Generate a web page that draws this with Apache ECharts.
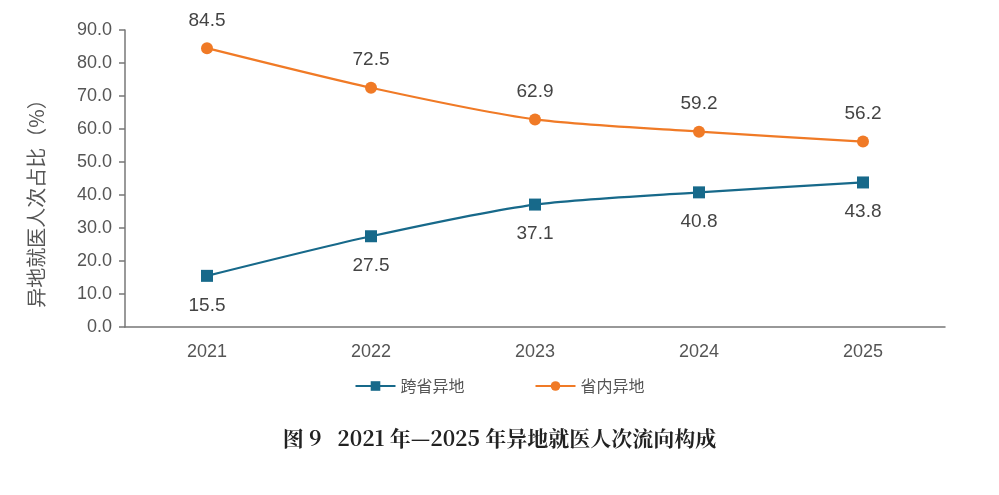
<!DOCTYPE html>
<html><head><meta charset="utf-8">
<script src="https://cdn.jsdelivr.net/npm/echarts@6/dist/echarts.min.js"></script>
<style>html,body{margin:0;padding:0;background:#fff}#c{width:999px;height:495px}</style>
</head><body><div id="c"></div>
<script>
const categories = ['2021','2022','2023','2024','2025'];
const crossProvince = [15.5, 27.5, 37.1, 40.8, 43.8];
const inProvince = [84.5, 72.5, 62.9, 59.2, 56.2];
const seriesNames = ['跨省异地','省内异地'];
const yAxisName = '异地就医人次占比（%）';
const titleText = '图 9   2021 年—2025 年异地就医人次流向构成';

const numFont = 'Arial, "Liberation Sans", sans-serif';
const chart = echarts.init(document.getElementById('c'));
chart.setOption({
  backgroundColor: '#fff',
  animation: false,
  title: {
    text: titleText, left: 'center', top: 423,
    textStyle: {fontFamily: '"Noto Serif CJK SC","Noto Sans CJK SC",serif', fontSize: 21, fontWeight: 'bold', color: '#222'}
  },
  legend: {
    top: 373, left: 'center', itemGap: 70, itemWidth: 40, itemHeight: 12,
    textStyle: {fontSize: 16, color: '#555', fontFamily: '"Noto Sans CJK SC",sans-serif'},
    data: seriesNames
  },
  grid: {left: 125, right: 54, top: 30, bottom: 168, containLabel: false},
  xAxis: {
    type: 'category', data: categories, boundaryGap: true,
    axisLine: {lineStyle: {color: '#777', width: 1.5}},
    axisTick: {inside: true, length: 6, lineStyle: {color: '#777', width: 1.5}},
    axisLabel: {fontSize: 18, color: '#555', margin: 16, fontFamily: numFont}
  },
  yAxis: {
    type: 'value', min: 0, max: 90, interval: 10,
    name: yAxisName, nameLocation: 'middle', nameGap: 79, nameRotate: 90,
    nameTextStyle: {fontSize: 20, color: '#555', fontFamily: '"Noto Sans CJK SC",sans-serif', padding: [0, 40, 0, 0]},
    axisLine: {show: true, lineStyle: {color: '#777', width: 1.5}},
    axisTick: {show: true, length: 6, lineStyle: {color: '#777', width: 1.5}},
    splitLine: {show: false},
    axisLabel: {fontSize: 18, color: '#555', margin: 13, formatter: v => v.toFixed(1), fontFamily: numFont}
  },
  series: [
    {
      name: seriesNames[0], type: 'line', data: crossProvince, smooth: 0.25,
      symbol: 'rect', symbolSize: 12,
      lineStyle: {color: '#17698A', width: 2.2}, itemStyle: {color: '#17698A'},
      label: {show: true, position: 'bottom', distance: 14, fontSize: 19, color: '#444', formatter: p => p.value.toFixed(1), fontFamily: numFont}
    },
    {
      name: seriesNames[1], type: 'line', data: inProvince, smooth: 0.25,
      symbol: 'circle', symbolSize: 12,
      lineStyle: {color: '#F07A26', width: 2.2}, itemStyle: {color: '#F07A26'},
      label: {show: true, position: 'top', distance: 12, fontSize: 19, color: '#444', formatter: p => p.value.toFixed(1), fontFamily: numFont}
    }
  ]
});
</script></body></html>
